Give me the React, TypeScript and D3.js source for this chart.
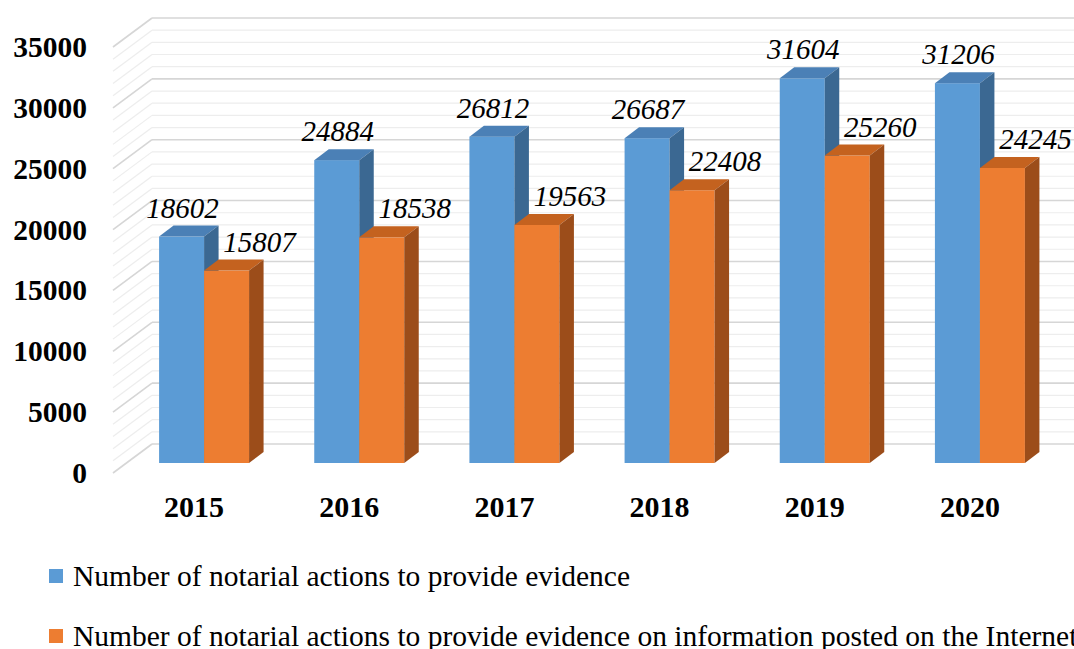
import React from "react";
import * as d3 from "d3";

const years = ["2015", "2016", "2017", "2018", "2019", "2020"];
const evidenceActions = [18602, 24884, 26812, 26687, 31604, 31206];
const internetActions = [15807, 18538, 19563, 22408, 25260, 24245];
const seriesNames = [
  "Number of notarial actions to provide evidence",
  "Number of notarial actions to provide evidence on information posted on the Internet",
];
const yTicks = [0, 5000, 10000, 15000, 20000, 25000, 30000, 35000];

const WIDTH = 1074;
const HEIGHT = 649;
const FONT = "Liberation Serif";

// colours per series: front, top, side
const palette = [
  { front: "#5b9bd5", top: "#4b80b6", side: "#3b6892" },
  { front: "#ed7d31", top: "#c4621f", side: "#9c4d1a" },
];

// 3D-ish geometry
const wallDepth = { dx: 39, dy: -29 };
const barOffset = { dx: 13.5, dy: -10 };
const barDepth = { dx: 14.5, dy: -11 };

function App(): JSX.Element {
  const series = [evidenceActions, internetActions];

  const y = d3.scaleLinear().domain([0, 35000]).range([473, 47]);
  const x = d3
    .scaleBand<string>()
    .domain(years)
    .range([113, 1044])
    .paddingInner(0.42)
    .paddingOuter(0.21);
  const sub = d3
    .scaleBand<number>()
    .domain([0, 1])
    .range([0, x.bandwidth()]);

  const gridValues = d3.range(0, 35001, 1000);
  const left = 113;

  const pts = (p: [number, number][]) => p.map((d) => d.join(",")).join(" ");

  return (
    <div style={{ position: "absolute", left: 0, top: 0 }}>
      <svg
        width={WIDTH}
        height={HEIGHT}
        style={{ display: "block", background: "white" }}
      >
        {/* side wall and back wall grid */}
        {gridValues.map((v) => {
          const yy = y(v);
          const major = v % 5000 === 0;
          const stroke = major ? "#d6d6d6" : "#ededed";
          const sw = major ? 1.6 : 1.2;
          return (
            <g key={v}>
              <line
                x1={left}
                y1={yy}
                x2={left + wallDepth.dx}
                y2={yy + wallDepth.dy}
                stroke={stroke}
                strokeWidth={sw}
              />
              <line
                x1={left + wallDepth.dx}
                y1={yy + wallDepth.dy}
                x2={WIDTH + 10}
                y2={yy + wallDepth.dy}
                stroke={stroke}
                strokeWidth={sw}
              />
            </g>
          );
        })}

        {/* bars */}
        {years.map((year, i) => (
          <g key={year}>
            {series.map((vals, s) => {
              const w = sub.bandwidth();
              const x0 = x(year)! + sub(s)! + barOffset.dx;
              const top = y(vals[i]) + barOffset.dy;
              const bottom = y(0) + barOffset.dy;
              const { dx, dy } = barDepth;
              const c = palette[s];
              return (
                <g key={s}>
                  <rect x={x0} y={top} width={w} height={bottom - top} fill={c.front} />
                  <polygon
                    points={pts([
                      [x0, top],
                      [x0 + w, top],
                      [x0 + w + dx, top + dy],
                      [x0 + dx, top + dy],
                    ])}
                    fill={c.top}
                  />
                  <polygon
                    points={pts([
                      [x0 + w, top],
                      [x0 + w + dx, top + dy],
                      [x0 + w + dx, bottom + dy],
                      [x0 + w, bottom],
                    ])}
                    fill={c.side}
                  />
                </g>
              );
            })}
          </g>
        ))}

        {/* data labels */}
        {years.map((year, i) =>
          series.map((vals, s) => {
            const cx =
              x(year)! + sub(s)! + barOffset.dx + sub.bandwidth() / 2 + (s === 0 ? 1 : 33);
            const top = y(vals[i]) + barOffset.dy;
            return (
              <text
                key={`${year}-${s}`}
                x={cx}
                y={top - 19}
                textAnchor="middle"
                fontFamily={FONT}
                fontStyle="italic"
                fontSize={29}
                fill="#000"
              >
                {vals[i]}
              </text>
            );
          })
        )}

        {/* y axis labels */}
        {yTicks.map((t) => (
          <text
            key={t}
            x={87}
            y={y(t) + 10}
            textAnchor="end"
            fontFamily={FONT}
            fontWeight="bold"
            fontSize={29.5}
            fill="#000"
          >
            {t}
          </text>
        ))}

        {/* x axis labels */}
        {years.map((year) => (
          <text
            key={year}
            x={x(year)! + barOffset.dx + x.bandwidth() / 2 - 10}
            y={517}
            textAnchor="middle"
            fontFamily={FONT}
            fontWeight="bold"
            fontSize={30}
            fill="#000"
          >
            {year}
          </text>
        ))}

        {/* legend */}
        {seriesNames.map((name, s) => (
          <g key={name} transform={`translate(49,${569 + s * 60})`}>
            <rect width={14} height={14} fill={palette[s].front} />
            <text x={24} y={17} fontFamily={FONT} fontSize={29.5} fill="#000">
              {name}
            </text>
          </g>
        ))}
      </svg>
    </div>
  );
}

export default App;
